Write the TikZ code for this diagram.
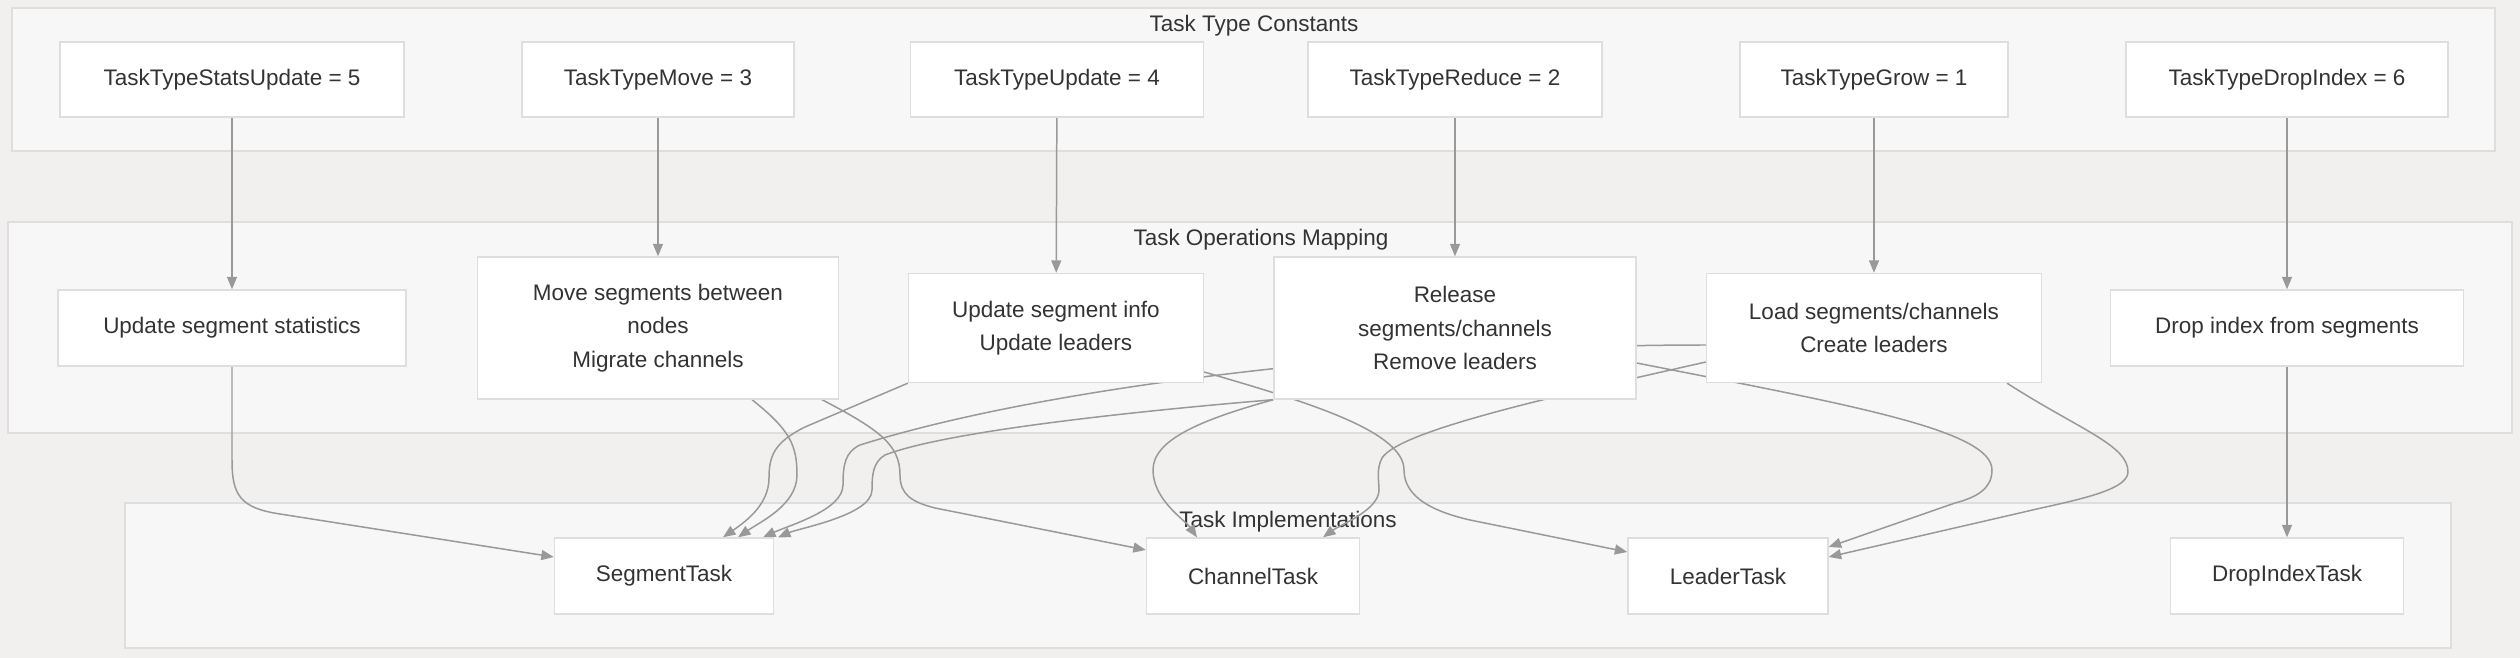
\documentclass[tikz,border=0pt]{standalone}
\usepackage{fontspec}
\setmainfont{Liberation Sans}
\usetikzlibrary{arrows.meta, calc}
\definecolor{cbg}{HTML}{F1F0EF}
\definecolor{cgroup}{HTML}{F7F7F7}
\definecolor{cline}{HTML}{DEDEDE}
\definecolor{cedge}{HTML}{999999}
\definecolor{ctext}{HTML}{333333}
\pgfdeclarelayer{bg}
\pgfdeclarelayer{groups}
\pgfdeclarelayer{edges}
\pgfsetlayers{bg,groups,edges,main}
\tikzset{
  every picture/.style={font=\fontsize{12.8}{19}\selectfont, text=ctext},
  box/.style={draw=cline, fill=white, line width=0.8pt, align=center, inner sep=0pt},
  group/.style={draw=cline, fill=cgroup, line width=0.9pt},
  title/.style={inner sep=0pt},
  arrow/.style={-{Triangle[length=0.25cm, width=0.2cm]}, draw=cedge, line width=0.85pt},
}
\begin{document}
\begin{tikzpicture}[x=0.02cm, y=-0.02cm]
  \useasboundingbox (0,0) rectangle (2520,658);
  \foreach \n/\x/\w/\lab in {Stats/232/6.88/TaskTypeStatsUpdate = 5, Move/658/5.44/TaskTypeMove = 3,
      Update/1057/5.86/TaskTypeUpdate = 4, Reduce/1455/5.88/TaskTypeReduce = 2,
      Grow/1874/5.36/TaskTypeGrow = 1, Drop/2287/6.44/TaskTypeDropIndex = 6}
    \node[box, minimum width=\w cm, minimum height=1.5cm] (t\n) at (\x,79.5) {\lab};
  \foreach \n/\x/\w/\h/\lab in {Stats/232/6.96/1.52/Update segment statistics,
      Move/658/7.22/2.84/{Move segments between\\nodes\\Migrate channels},
      Update/1056/5.9/2.18/{Update segment info\\Update leaders},
      Reduce/1455/7.24/2.84/{Release\\segments/channels\\Remove leaders},
      Grow/1874/6.7/2.18/{Load segments/channels\\Create leaders},
      Drop/2287/7.06/1.52/Drop index from segments}
    \node[box, minimum width=\w cm, minimum height=\h cm] (o\n) at (\x,328) {\lab};
  \node[box, minimum width=4.38cm, minimum height=1.52cm] (segTask) at (664,576) {SegmentTask};
  \node[box, minimum width=4.26cm, minimum height=1.52cm] (chanTask) at (1253,576) {ChannelTask};
  \node[box, minimum width=4.0cm, minimum height=1.52cm] (leadTask) at (1728,576) {LeaderTask};
  \node[box, minimum width=4.66cm, minimum height=1.52cm] (dropTask) at (2287,576) {DropIndexTask};
  \begin{pgfonlayer}{bg}
    \fill[cbg] (0,0) rectangle (2520,658);
  \end{pgfonlayer}
  \begin{pgfonlayer}{groups}
    \draw[group] (12,8) rectangle (2495,151);
    \node[title] (constTitle) at (1254,26) {Task Type Constants};
    \draw[group] (8,222) rectangle (2512,433);
    \node[title] (opsTitle) at (1261,240) {Task Operations Mapping};
    \draw[group] (125,503) rectangle (2451,648);
    \node[title] (implTitle) at (1288,522) {Task Implementations};
  \end{pgfonlayer}
  \begin{pgfonlayer}{edges}
    \foreach \n in {Stats,Move,Update,Reduce,Grow,Drop} \draw[arrow] (t\n) -- (o\n);
    \draw[arrow] (oStats.south) -- (232,460) .. controls (232,495) and (240,508) .. (280,514) -- ($(segTask.west)+(0,-19)$);
    \draw[arrow] ($(oMove.south)+(94,0)$) .. controls (790,430) and (797,445) .. (797,475) .. controls (797,505) and (760,522) .. ($(segTask.north)+(74,0)$);
    \draw[arrow] ($(oMove.south)+(164,0)$) .. controls (880,430) and (900,445) .. (900,475) .. controls (900,495) and (912,502) .. (935,508) -- ($(chanTask.west)+(0,-26)$);
    \draw[arrow] (oUpdate.south west) -- (805,427) .. controls (775,442) and (769,455) .. (769,478) .. controls (769,505) and (745,522) .. ($(segTask.north)+(59,0)$);
    \draw[arrow] ($(oGrow.west)+(0,17)$) .. controls (1400,345) and (1050,385) .. (860,445) .. controls (845,452) and (843,465) .. (843,485) .. controls (843,510) and (790,525) .. ($(segTask.north)+(99,0)$);
    \draw[arrow] (oReduce.south west) .. controls (1150,410) and (950,430) .. (885,455) .. controls (873,462) and (872,475) .. (872,490) .. controls (872,515) and (800,528) .. ($(segTask.north)+(114,0)$);
    \draw[arrow] (oReduce.south west) .. controls (1200,420) and (1153,440) .. (1153,470) .. controls (1153,500) and (1185,520) .. ($(chanTask.north)+(-56,0)$);
    \draw[arrow] ($(oGrow.west)+(0,34)$) .. controls (1560,395) and (1400,430) .. (1382,458) .. controls (1376,470) and (1379,480) .. (1379,490) .. controls (1379,510) and (1340,525) .. ($(chanTask.north)+(70,0)$);
    \draw[arrow] ($(oUpdate.east)+(0,44)$) .. controls (1300,400) and (1404,430) .. (1404,470) .. controls (1404,498) and (1435,512) .. (1470,520) -- ($(leadTask.west)+(0,-24)$);
    \draw[arrow] ($(oReduce.east)+(0,35)$) .. controls (1850,405) and (1992,430) .. (1992,470) .. controls (1992,488) and (1978,497) .. (1955,503) -- ($(leadTask.east)+(0,-29)$);
    \draw[arrow] ($(oGrow.south)+(133,0)$) .. controls (2080,430) and (2128,445) .. (2128,472) .. controls (2128,492) and (2065,502) .. (2024,512) -- ($(leadTask.east)+(0,-19)$);
    \draw[arrow] (oDrop) -- (dropTask);
  \end{pgfonlayer}
\end{tikzpicture}
\end{document}
